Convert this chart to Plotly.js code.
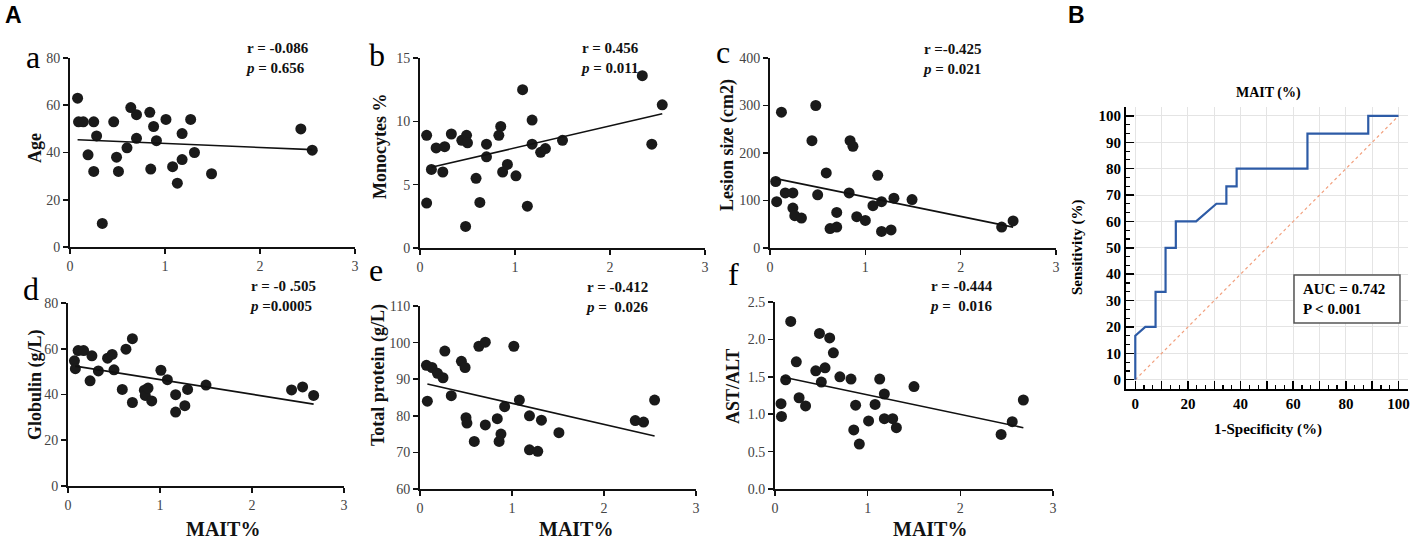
<!DOCTYPE html>
<html>
<head>
<meta charset="utf-8">
<script src="https://cdn.plot.ly/plotly-3.0.1.min.js"></script>
<style>html,body{margin:0;padding:0;background:#fff}</style>
</head>
<body>
<div id="chart" style="width:1415px;height:544px"></div>
<script>
// values (MAIT% on x for every small panel)
const maitA = [0.08,0.09,0.14,0.19,0.25,0.28,0.25,0.34,0.46,0.49,0.51,0.60,0.64,0.70,0.70,0.84,0.88,0.91,0.85,1.01,1.08,1.13,1.18,1.18,1.27,1.31,1.49,2.43,2.55]
const age = [63,53,53,39,53,47,32,10,53,38,32,42,59,56,46,57,51,45,33,54,34,27,48,37,54,40,31,50,41]

const maitB = [0.07,0.07,0.12,0.17,0.26,0.24,0.33,0.44,0.49,0.50,0.48,0.59,0.63,0.70,0.70,0.83,0.85,0.87,0.92,1.01,1.08,1.13,1.18,1.18,1.27,1.32,1.50,2.34,2.44,2.55]
const monocytes = [8.9,3.55,6.2,7.9,8.0,6.0,9.0,8.5,8.9,8.3,1.7,5.5,3.6,8.2,7.2,8.9,9.6,6.0,6.6,5.7,12.5,3.3,10.1,8.2,7.55,7.85,8.5,13.6,8.2,11.3]

const maitC = [0.06,0.07,0.12,0.16,0.24,0.24,0.26,0.33,0.44,0.48,0.50,0.59,0.63,0.70,0.70,0.83,0.84,0.87,0.91,1.00,1.08,1.13,1.17,1.17,1.27,1.30,1.49,2.43,2.55]
const lesion = [140,97.5,286,116,116,84,68,63,226,300,112,158,41,44,75,116,226,214,66,58,89,153,97.5,35,38,105,102,44,57]

const maitD = [0.07,0.08,0.11,0.17,0.24,0.26,0.33,0.43,0.48,0.50,0.59,0.63,0.70,0.70,0.83,0.84,0.87,0.91,1.01,1.08,1.17,1.17,1.27,1.30,1.50,2.43,2.55,2.67]
const globulin = [54.7,51.3,59.2,59.2,46,56.9,50.3,55.9,57.5,50.8,42.2,59.8,36.5,64.4,41.9,39.6,42.8,37.2,50.6,46.5,39.9,32.3,35.1,42.2,44.1,42,43.3,39.6]

const maitE = [0.07,0.13,0.19,0.25,0.27,0.08,0.34,0.45,0.49,0.50,0.51,0.59,0.64,0.71,0.71,0.84,0.88,0.86,0.92,1.02,1.08,1.19,1.19,1.28,1.32,1.51,2.34,2.43,2.55]
const totalProtein = [93.8,93.2,91.6,90.4,97.7,84.0,85.5,94.9,93.2,79.5,78,73,99,100.1,77.5,79.2,75,73,82.5,99,84.3,80,70.7,70.3,78.8,75.4,78.7,78.3,84.3]

const maitF = [0.065,0.07,0.115,0.17,0.23,0.26,0.33,0.44,0.48,0.50,0.54,0.59,0.63,0.70,0.82,0.85,0.87,0.91,1.01,1.08,1.13,1.18,1.18,1.27,1.31,1.50,2.44,2.56,2.68]
const astAlt = [1.14,0.97,1.46,2.24,1.70,1.22,1.11,1.58,2.08,1.43,1.62,2.02,1.82,1.50,1.47,0.79,1.12,0.60,0.91,1.13,1.47,1.27,0.94,0.94,0.82,1.37,0.73,0.90,1.19]

// fitted regression lines, end points as drawn
const fitX_A = [0.08, 2.55], fitY_A = [45.4, 41.2]
const fitX_B = [0.12, 2.55], fitY_B = [6.37, 10.6]
const fitX_C = [0.06, 2.55], fitY_C = [146, 44]
const fitX_D = [0.08, 2.67], fitY_D = [52.4, 35.8]
const fitX_E = [0.08, 2.55], fitY_E = [88.7, 74.5]
const fitX_F = [0.07, 2.68], fitY_F = [1.50, 0.82]

const stats = [
    'r = -0.086<br><i>p</i> = 0.656',
    'r = 0.456<br><i>p</i> = 0.011',
    'r =-0.425<br><i>p</i> = 0.021',
    'r = -0 .505<br><i>p</i> =0.0005',
    'r = -0.412<br><i>p</i> =\u00a0 0.026',
    'r = -0.444<br><i>p</i> =\u00a0 0.016'
]
const yTitles = ['Age', 'Monocytes %', 'Lesion size (cm2)', 'Globulin (g/L)', 'Total protein (g/L)', 'AST/ALT']

// ROC curve (panel B)
const rocFpr = [0, 0, 3.8, 7.7, 7.7, 11.5, 11.5, 15.4, 15.4, 23.1, 30.8, 34.6, 34.6, 38.5, 38.5, 65.4, 65.4, 88.5, 88.5, 100]
const rocTpr = [0, 16.7, 20, 20, 33.3, 33.3, 50, 50, 60, 60, 66.7, 66.7, 73.3, 73.3, 80, 80, 93.3, 93.3, 100, 100]
const refLine = [0, 100]
const rocTicks = [0, 10, 20, 30, 40, 50, 60, 70, 80, 90, 100]
const rocXText = ['0', '', '20', '', '40', '', '60', '', '80', '', '100']
const rocYText = ['0', '10', '20', '30', '40', '50', '60', '70', '80', '90', '100']

const W = 1415, H = 544
const px = x => x / W
const py = y => 1 - y / H

// pixel boxes [left, right, top, bottom] of each small panel
const panels = [
    { x: maitA, y: age,          fx: fitX_A, fy: fitY_A, range: [0, 80],   dtick: 20,  box: [70, 355, 58, 247],   letter: 'a', lp: [24, 57],  st: [243, 58],  yt: [35, 148] },
    { x: maitB, y: monocytes,    fx: fitX_B, fy: fitY_B, range: [0, 15],   dtick: 5,   box: [420, 705, 58, 248],  letter: 'b', lp: [367, 55], st: [578, 58],  yt: [380, 147] },
    { x: maitC, y: lesion,       fx: fitX_C, fy: fitY_C, range: [0, 400],  dtick: 100, box: [770, 1056, 58, 248], letter: 'c', lp: [714, 52], st: [920, 59],  yt: [727, 145] },
    { x: maitD, y: globulin,     fx: fitX_D, fy: fitY_D, range: [0, 80],   dtick: 20,  box: [68, 344, 303, 486],  letter: 'd', lp: [21, 289], st: [247, 296], yt: [35, 385] },
    { x: maitE, y: totalProtein, fx: fitX_E, fy: fitY_E, range: [60, 110], dtick: 10,  box: [420, 696, 306, 489], letter: 'e', lp: [367, 270], st: [583, 297], yt: [378, 375] },
    { x: maitF, y: astAlt,       fx: fitX_F, fy: fitY_F, range: [0, 2.5],  dtick: 0.5, box: [775, 1053, 302, 489], letter: 'f', lp: [726, 274], st: [927, 296], yt: [733, 387] }
]

const serif = 'Liberation Serif, Times New Roman, serif'
const data = []
const layout = {
    width: W, height: H,
    margin: { l: 0, r: 0, t: 0, b: 0 },
    paper_bgcolor: '#fff', plot_bgcolor: 'rgba(0,0,0,0)',
    showlegend: false,
    font: { family: serif, color: '#000' },
    annotations: [],
    shapes: []
}

function note(text, x, y, opts) {
    layout.annotations.push(Object.assign({
        text: text, x: px(x), y: py(y), xref: 'paper', yref: 'paper',
        showarrow: false, xanchor: 'center', yanchor: 'middle'
    }, opts))
}

panels.forEach((p, i) => {
    const n = i + 1
    const ax = n === 1 ? '' : n
    data.push({
        x: p.x, y: p.y, xaxis: 'x' + ax, yaxis: 'y' + ax,
        type: 'scatter', mode: 'markers', cliponaxis: false,
        marker: { color: '#1a1a1a', size: 11 }
    })
    data.push({
        x: p.fx, y: p.fy, xaxis: 'x' + ax, yaxis: 'y' + ax,
        type: 'scatter', mode: 'lines', cliponaxis: false,
        line: { color: '#111', width: 1.6 }
    })
    const common = {
        showline: true, linewidth: 2, linecolor: '#111',
        ticks: 'outside', ticklen: 5, tickwidth: 1.6, tickcolor: '#111',
        showgrid: false, zeroline: false,
        tickfont: { family: serif, size: 14, color: '#444' }
    }
    layout['xaxis' + ax] = Object.assign({}, common, {
        domain: [px(p.box[0]), px(p.box[1])], anchor: 'y' + ax,
        range: [0, 3], dtick: 1, tick0: 0
    })
    layout['yaxis' + ax] = Object.assign({}, common, {
        domain: [py(p.box[3]), py(p.box[2])], anchor: 'x' + ax,
        range: p.range, dtick: p.dtick, tick0: 0,
        tickformat: p.dtick < 1 ? '.1f' : ''
    })
    note(p.letter, p.lp[0], p.lp[1], { xanchor: 'left', font: { family: serif, size: 32, color: '#000' } })
    note('<b>' + stats[i] + '</b>', p.st[0], p.st[1], { xanchor: 'left', align: 'left', font: { family: serif, size: 15, color: '#111' } })
    note('<b>' + yTitles[i] + '</b>', p.yt[0], p.yt[1], { textangle: -90, font: { family: serif, size: 18, color: '#111' } })
})

// shared x titles under the bottom row
note('<b>MAIT%</b>', 223, 529, { font: { family: serif, size: 20, color: '#111' } })
note('<b>MAIT%</b>', 576, 529, { font: { family: serif, size: 20, color: '#111' } })
note('<b>MAIT%</b>', 930, 529, { font: { family: serif, size: 20, color: '#111' } })

// panel B: ROC
data.push({
    x: refLine, y: refLine, xaxis: 'x7', yaxis: 'y7',
    type: 'scatter', mode: 'lines',
    line: { color: '#f2a07e', width: 1.2, dash: 'dot' }
})
data.push({
    x: rocFpr, y: rocTpr, xaxis: 'x7', yaxis: 'y7',
    type: 'scatter', mode: 'lines', cliponaxis: false,
    line: { color: '#2d5ba6', width: 2.2 }
})
const rocAxis = {
    showline: true, linewidth: 2, linecolor: '#000',
    ticks: 'inside', ticklen: 8, tickwidth: 1.5, tickcolor: '#000',
    showgrid: true, gridcolor: '#e4e4e4', gridwidth: 1, zeroline: false,
    tickmode: 'array', tickvals: rocTicks,
    minor: { ticks: 'inside', ticklen: 4, tickwidth: 1.2, tickcolor: '#000', tickmode: 'linear', tick0: 0, dtick: 10 / 3, showgrid: false },
    tickfont: { family: serif, size: 15, color: '#000', weight: 'bold' }
}
layout.xaxis7 = Object.assign({}, rocAxis, {
    domain: [px(1126), px(1408)], anchor: 'y7', range: [-3.53, 103.6], ticktext: rocXText
})
layout.yaxis7 = Object.assign({}, rocAxis, {
    domain: [py(389.3), py(106.7)], anchor: 'x7', range: [-3.64, 103.5], ticktext: rocYText
})
note('<b>MAIT (%)</b>', 1268, 93, { font: { family: serif, size: 14, color: '#000' } })
note('<b>1-Specificity (%)</b>', 1268, 429, { font: { family: serif, size: 15, color: '#000' } })
note('<b>Sensitivity (%)</b>', 1078, 248, { textangle: -90, font: { family: serif, size: 15, color: '#000' } })

layout.shapes.push({
    type: 'rect', xref: 'paper', yref: 'paper',
    x0: px(1294), x1: px(1400), y0: py(323), y1: py(275),
    line: { color: '#555', width: 1.5 }, fillcolor: '#fff', layer: 'above'
})
note('<b>AUC = 0.742<br>P &lt; 0.001</b>', 1301, 299, { xanchor: 'left', align: 'left', font: { family: serif, size: 15, color: '#000' } })

// panel labels
note('<b>A</b>', 3, 15, { xanchor: 'left', font: { family: 'Liberation Sans, Arial, sans-serif', size: 23, color: '#000' } })
note('<b>B</b>', 1066, 15, { xanchor: 'left', font: { family: 'Liberation Sans, Arial, sans-serif', size: 23, color: '#000' } })

Plotly.newPlot('chart', data, layout, { displayModeBar: false, staticPlot: true })
</script>
</body>
</html>
